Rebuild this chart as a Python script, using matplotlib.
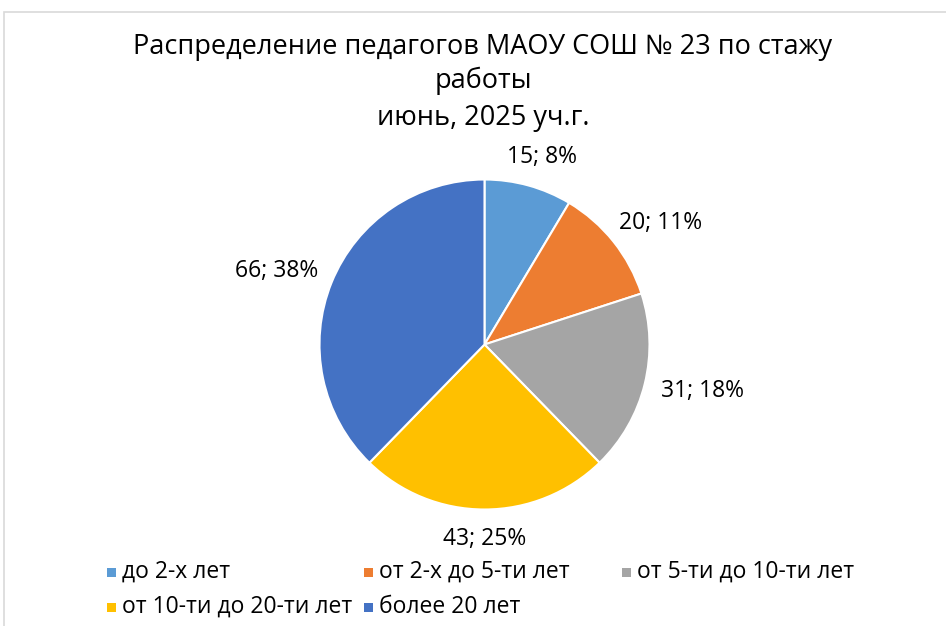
import matplotlib
matplotlib.use("Agg")
import matplotlib.pyplot as plt
import numpy as np
from matplotlib.patches import Rectangle

plt.rcParams['font.family'] = ['Open Sans', 'DejaVu Sans']

# ---- data ----
categories = ["до 2-х лет", "от 2-х до 5-ти лет", "от 5-ти до 10-ти лет",
              "от 10-ти до 20-ти лет", "более 20 лет"]
values = [15, 20, 31, 43, 66]
percent_labels = ["8%", "11%", "18%", "25%", "38%"]
colors = ["#5B9BD5", "#ED7D31", "#A5A5A5", "#FFC000", "#4472C4"]
title_lines = ["Распределение педагогов МАОУ СОШ № 23 по стажу", "работы", "июнь, 2025 уч.г."]

W, H = 946, 626
fig = plt.figure(figsize=(W / 100, H / 100), dpi=100)
fig.patch.set_facecolor("white")

# frame
fig.add_artist(Rectangle((4 / W, -0.05), 1.2, 1 - 12 / H + 0.05, transform=fig.transFigure,
                         fill=False, edgecolor="#D9D9D9", linewidth=1.2))

# pie axes
cx, cy, R = 484.5, 344.5, 165.0
ax = fig.add_axes([(cx - R) / W, (H - cy - R) / H, 2 * R / W, 2 * R / H])
wedges, _ = ax.pie(values, colors=colors, startangle=90, counterclock=False,
                   radius=1.0, wedgeprops=dict(edgecolor="white", linewidth=1.5))
ax.set_xlim(-1, 1)
ax.set_ylim(-1, 1)
ax.axis("off")

# title
title_size = 19.5
ys = [47, 81, 118]
for line, y in zip(title_lines, ys):
    fig.text(0.5 * (133 + 833) / W, 1 - y / H, line, ha="center", va="center",
             fontsize=title_size, color="#000000")

# data labels (outside end)
fig.canvas.draw()
renderer = fig.canvas.get_renderer()
total = sum(values)
cum = 0
label_size = 16.5
gap = 18.0  # px
for v, p in zip(values, percent_labels):
    mid = (cum + v / 2) / total * 2 * np.pi
    cum += v
    s, c = np.sin(mid), np.cos(mid)
    t = fig.text(0, 0, f"{v}; {p}", ha="center", va="center", fontsize=label_size,
                 color="#000000")
    bb = t.get_window_extent(renderer)
    w, h = bb.width, bb.height
    px = cx + (R + gap) * s + s * w / 2
    py = (H - cy) + (R + gap) * c + c * h / 2
    t.set_position((px / W, py / H))

# legend (manual, Excel-like layout)
leg_size = 16.5
col_x = [107, 364, 622]
row_y = [572, 607]
order = [(0, 0, 0), (1, 0, 1), (2, 0, 2), (3, 1, 0)]
sq = 9
items = []
for idx, r, ccol in order:
    x, y = col_x[ccol], row_y[r]
    fig.add_artist(Rectangle((x / W, (H - y - sq / 2) / H), sq / W, sq / H,
                             transform=fig.transFigure, facecolor=colors[idx],
                             edgecolor="none"))
    t = fig.text((x + sq + 6) / W, (H - y) / H, categories[idx], ha="left", va="center",
                 fontsize=leg_size, color="#000000")
    items.append(t)
fig.canvas.draw()
bb = items[3].get_window_extent(renderer)
x5 = max(bb.x1 + 6, col_x[1])
y5 = row_y[1]
fig.add_artist(Rectangle((x5 / W, (H - y5 - sq / 2) / H), sq / W, sq / H,
                         transform=fig.transFigure, facecolor=colors[4], edgecolor="none"))
fig.text((x5 + sq + 6) / W, (H - y5) / H, categories[4], ha="left", va="center",
         fontsize=leg_size, color="#000000")

fig.savefig("out.png", dpi=100, facecolor="white")
